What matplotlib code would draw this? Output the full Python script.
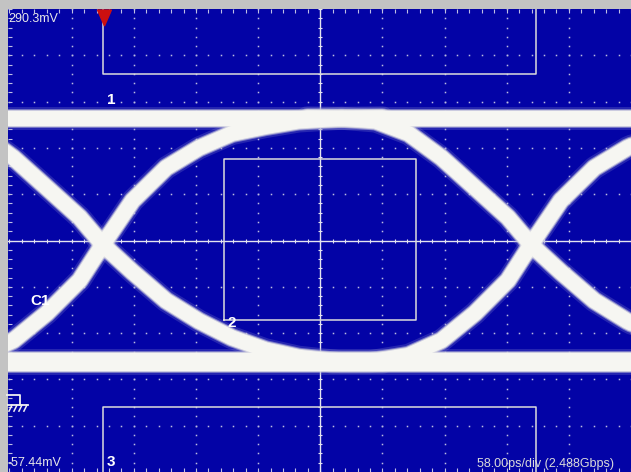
import matplotlib.pyplot as plt
from matplotlib.patches import Polygon
import numpy as np

# eye diagram, in divisions (0,0 = screen centre)
level_high = 2.65
level_low = -2.63
crossings = [-3.50, 3.39]

# edge shapes relative to a crossing point
rise_dx = [-3.20, -2.60, -1.97, -1.44, -0.90, -0.37, 0.00, 0.48, 1.02, 1.55, 2.08, 2.62, 3.15, 3.84, 4.50]
rise_y = [-2.63, -2.62, -2.48, -2.16, -1.57, -0.86, -0.09, 0.86, 1.57, 2.00, 2.31, 2.46, 2.58, 2.64, 2.65]
fall_dx = [-3.60, -3.04, -2.50, -1.97, -1.44, -0.90, -0.37, 0.00, 0.48, 1.02, 1.55, 2.08, 2.62, 3.15, 3.84, 4.50]
fall_y = [2.65, 2.64, 2.58, 2.31, 1.79, 1.14, 0.50, -0.09, -0.68, -1.30, -1.74, -2.10, -2.36, -2.52, -2.62, -2.63]

# mask boxes
mask_outer_x = [-3.49, 3.47]
mask_top = 3.60
mask_bottom = -3.60
mask_inner_x = [-1.55, 1.54]
mask_inner_y = [-1.72, 1.75]

top_label = "290.3mV"
bottom_label = "-57.44mV"
timebase_label = "58.00ps/div (2.488Gbps)"

W, H = 631, 472
X0, Y0, DX, DY = 322, 240, 62.5, 46.4


def px(x, y):
    # screen pixel -> divisions
    return (x - X0) / DX, (Y0 - y) / DY


fig = plt.figure(figsize=(W / 100, H / 100), dpi=100)
fig.patch.set_facecolor('#c3c3c3')
ax = fig.add_axes([8 / W, 0, (W - 8) / W, (H - 9) / H])
ax.set_facecolor('#0303a6')
x_left, y_top = px(8, 9)
x_right, y_bot = px(W, H)
ax.set_xlim(x_left, x_right)
ax.set_ylim(y_bot, y_top)
for s in ax.spines.values():
    s.set_visible(False)

# ticks on the screen edges
ax.set_xticks(np.arange(-5, 6, 1))
ax.set_yticks(np.arange(-5, 6, 1))
ax.set_xticks(np.arange(-5, 5.01, 0.2), minor=True)
ax.set_yticks(np.arange(-5, 5.01, 0.2), minor=True)
ax.tick_params(which='both', direction='in', length=3, width=0.8, color='#c0c0e4',
               top=True, bottom=True, left=True, right=False,
               labelbottom=False, labelleft=False)

# dotted graticule
dot_c = '#bcbce0'
minor = np.arange(-5, 5.01, 0.2)
for g in range(-4, 5):
    if g == 0:
        continue
    ax.plot(np.full_like(minor, g), minor, ls='none', marker='s', ms=1.1, mew=0, color=dot_c)
    ax.plot(minor, np.full_like(minor, g), ls='none', marker='s', ms=1.1, mew=0, color=dot_c)

# centre crosshair with small ticks
ax.axhline(0, color='#e4e4f0', lw=1.0)
ax.axvline(0, color='#e4e4f0', lw=1.0)
ax.plot(minor, np.zeros_like(minor), ls='none', marker='|', ms=3.5, mew=0.8, color='#e4e4f0')
ax.plot(np.zeros_like(minor), minor, ls='none', marker='_', ms=3.5, mew=0.8, color='#e4e4f0')

# mask boxes
box_c = '#dcdcdc'
x1, x2 = mask_outer_x
ax.plot([x1, x1, x2, x2], [y_top + 1, mask_top, mask_top, y_top + 1], color=box_c, lw=1.1)
ax.plot([x1, x1, x2, x2], [y_bot - 1, mask_bottom, mask_bottom, y_bot - 1], color=box_c, lw=1.1)
ix1, ix2 = mask_inner_x
iy1, iy2 = mask_inner_y
ax.plot([ix1, ix2, ix2, ix1, ix1], [iy1, iy1, iy2, iy2, iy1], color=box_c, lw=1.1)

# eye traces
paths = [([-5.3, 5.2], [level_high] * 2, 15),
         ([-5.3, 5.2], [level_low] * 2, 18)]
for c in crossings:
    paths.append((c + np.array(rise_dx), rise_y, 15))
    paths.append((c + np.array(fall_dx), fall_y, 15))

layers = [(8, 0.25, '#8c8cd0'), (4, 0.5, '#c4c4dc'), (2, 0.8, '#e2e2e6'), (0, 1.0, '#f6f6f2')]
for extra, a, col in layers:
    for xs, ys, w in paths:
        ax.plot(xs, ys, lw=(w + extra) * 0.72, color=col, alpha=a,
                solid_capstyle='round', solid_joinstyle='round')

# trigger marker
tri = Polygon([px(98, 9), px(112, 9), px(105, 25)], closed=True,
              color='#cc1010', clip_on=False, zorder=5)
ax.add_patch(tri)

# ground symbol
gnd_c = '#f0f0f0'
ax.plot(*zip(px(7, 395), px(20, 395), px(20, 405)), color=gnd_c, lw=1.3, clip_on=False)
ax.plot(*zip(px(8, 405), px(28, 405)), color=gnd_c, lw=1.3, clip_on=False)
for hx in [12, 17, 22, 27]:
    ax.plot(*zip(px(hx, 405), px(hx - 3, 411)), color=gnd_c, lw=1.1, clip_on=False)

# texts
font = 'Liberation Sans'
ax.text(*px(8, 21), top_label, color='#e8e8e8', fontsize=9, family=font, va='baseline', zorder=10)
ax.text(*px(7, 466), bottom_label, color='#e8e8e8', fontsize=9, family=font, va='baseline', zorder=10)
ax.text(*px(480, 467), timebase_label, color='#dadada', fontsize=9, family=font,
        va='baseline', clip_on=False, zorder=10)
for label, (lx, ly) in [('1', (108, 103)), ('2', (229, 327)), ('3', (107, 466)), ('C1', (30, 305))]:
    ax.text(*px(lx, ly), label, color='white', fontsize=11, fontweight='bold',
            family=font, va='baseline', zorder=10)

fig.savefig('out.png', dpi=100, facecolor=fig.get_facecolor())
